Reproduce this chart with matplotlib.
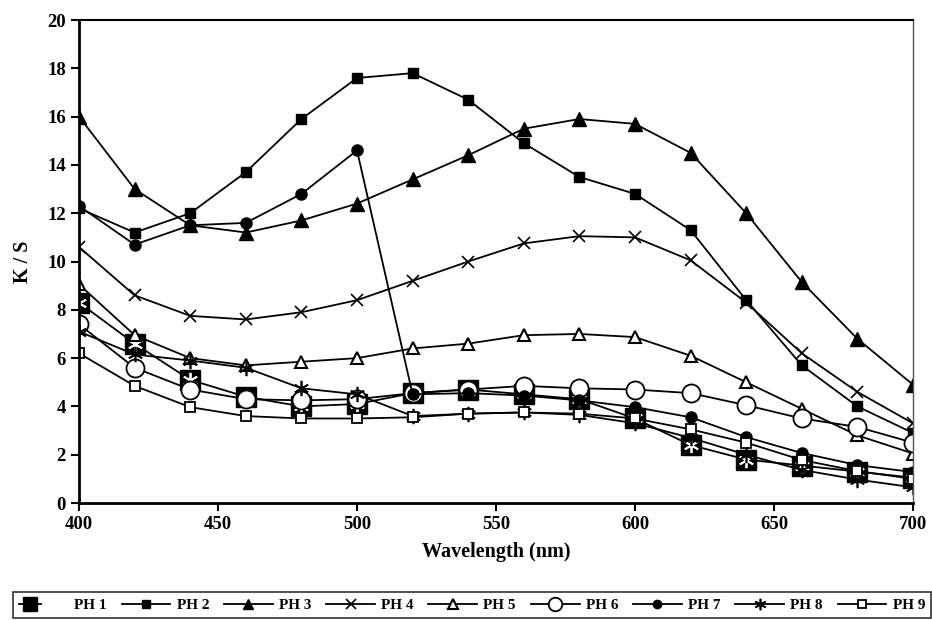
import numpy as np
import matplotlib
matplotlib.use('Agg')
import matplotlib.pyplot as plt
from matplotlib.legend_handler import HandlerTuple

plt.rcParams['font.family'] = ['Liberation Serif', 'DejaVu Serif']
plt.rcParams['font.weight'] = 'bold'

# wavelength (nm)
wavelength = [400, 420, 440, 460, 480, 500, 520, 540, 560, 580, 600, 620, 640, 660, 680, 700]

# K/S values
ph1 = [8.3, 6.6, 5.1, 4.4, 4.0, 4.1, 4.55, 4.7, 4.5, 4.3, 3.5, 2.4, 1.8, 1.55, 1.3, 1.05]
ph2 = [12.2, 11.2, 12.0, 13.7, 15.9, 17.6, 17.8, 16.7, 14.9, 13.5, 12.8, 11.3, 8.4, 5.7, 4.0, 2.9]
ph3 = [16.0, 13.0, 11.5, 11.2, 11.7, 12.4, 13.4, 14.4, 15.5, 15.9, 15.7, 14.5, 12.0, 9.15, 6.8, 4.9]
ph4 = [10.6, 8.6, 7.75, 7.6, 7.9, 8.4, 9.2, 10.0, 10.75, 11.05, 11.0, 10.05, 8.3, 6.2, 4.6, 3.3]
ph5 = [9.05, 6.95, 6.0, 5.7, 5.85, 6.0, 6.4, 6.6, 6.95, 7.0, 6.87, 6.1, 5.0, 3.9, 2.8, 2.05]
ph6 = [7.4, 5.6, 4.7, 4.3, 4.25, 4.3, 4.55, 4.7, 4.85, 4.75, 4.7, 4.55, 4.05, 3.5, 3.15, 2.5]
ph7 = [12.3, 10.7, 11.5, 11.6, 12.8, 14.6, 4.5, 4.55, 4.45, 4.25, 3.97, 3.55, 2.73, 2.07, 1.57, 1.28]
ph8 = [7.1, 6.15, 5.9, 5.6, 4.75, 4.5, 3.6, 3.7, 3.75, 3.65, 3.3, 2.7, 2.0, 1.37, 0.97, 0.65]
ph9 = [6.2, 4.85, 3.97, 3.6, 3.5, 3.5, 3.55, 3.7, 3.75, 3.7, 3.5, 3.05, 2.5, 1.78, 1.32, 1.0]

labels = ['PH 1', 'PH 2', 'PH 3', 'PH 4', 'PH 5', 'PH 6', 'PH 7', 'PH 8', 'PH 9']

fig = plt.figure(figsize=(9.32, 6.2), dpi=100)
ax = fig.add_axes([0.0848, 0.1887, 0.8948, 0.779])

lw = 1.3
handles = []

# PH 1: black square with white cross on it
h1a, = ax.plot(wavelength, ph1, color='black', lw=lw, marker='s', ms=14,
               mfc='black', mec='black')
h1b, = ax.plot(wavelength, ph1, ls='none', marker=(6, 2, 0), ms=11,
               mec='white', mew=1.3)
handles.append((h1a, h1b))

h2, = ax.plot(wavelength, ph2, color='black', lw=lw, marker='s', ms=7.5, mfc='black')
handles.append(h2)
h3, = ax.plot(wavelength, ph3, color='black', lw=lw, marker='^', ms=9.5, mfc='black')
handles.append(h3)
h4, = ax.plot(wavelength, ph4, color='black', lw=lw, marker='x', ms=9, mew=1.2)
handles.append(h4)
h5, = ax.plot(wavelength, ph5, color='black', lw=lw, marker='^', ms=9, mfc='white', mew=1.5)
handles.append(h5)
h6, = ax.plot(wavelength, ph6, color='black', lw=lw, marker='o', ms=13, mfc='white', mew=1.3)
handles.append(h6)
h7, = ax.plot(wavelength, ph7, color='black', lw=lw, marker='o', ms=8, mfc='black')
handles.append(h7)
h8, = ax.plot(wavelength, ph8, color='black', lw=lw, marker=(6, 2, 0), ms=11, mew=1.2)
handles.append(h8)
h9, = ax.plot(wavelength, ph9, color='black', lw=lw, marker='s', ms=7.5, mfc='white', mew=1.3)
handles.append(h9)

ax.set_xlim(400, 700)
ax.set_ylim(0, 20)
ax.set_xticks(np.arange(400, 701, 50))
ax.set_yticks(np.arange(0, 21, 2))
ax.tick_params(axis='both', direction='out', length=6, width=1.5, labelsize=13.5)
for lab in ax.get_xticklabels() + ax.get_yticklabels():
    lab.set_fontweight('bold')
ax.spines['left'].set_linewidth(2)
ax.spines['bottom'].set_linewidth(2)
ax.spines['top'].set_linewidth(1.5)
ax.spines['right'].set_linewidth(1)
ax.spines['right'].set_color('#555555')

ax.set_xlabel('Wavelength (nm)', fontsize=14.5, fontweight='bold', labelpad=6)
ax.set_ylabel('K / S', fontsize=14.5, fontweight='bold', labelpad=10)

leg = fig.legend(handles, labels, loc='lower left', ncol=9, mode='expand',
                 bbox_to_anchor=(0.014, 0.003, 0.985, 0.058),
                 handler_map={tuple: HandlerTuple(ndivide=None)},
                 prop={'weight': 'bold', 'size': 11}, frameon=True, fancybox=False,
                 edgecolor='black', handlelength=3.2, handletextpad=0.4,
                 columnspacing=0.8, borderaxespad=0, markerscale=0.75)
leg.get_frame().set_linewidth(1.2)

fig.savefig('out.png', dpi=100)
